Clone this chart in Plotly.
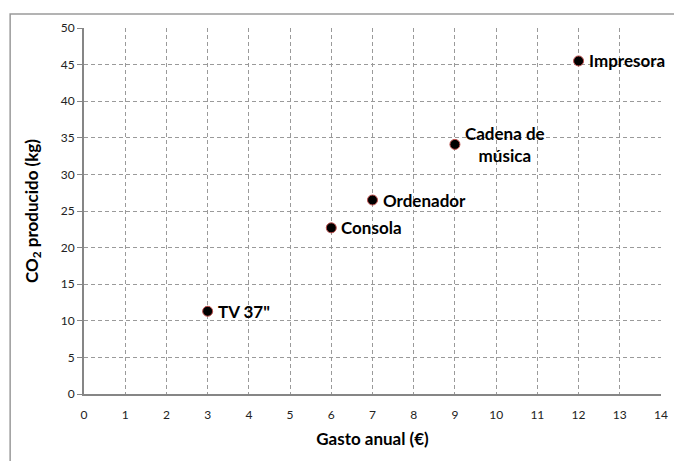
import plotly.graph_objects as go

aparatos = ["TV 37\"", "Consola", "Ordenador", "Cadena de<br>música", "Impresora"]
gasto_anual = [3, 6, 7, 9, 12]
co2_producido = [11.3, 22.7, 26.5, 34.1, 45.5]

x_ticks = list(range(0, 15))
y_ticks = list(range(0, 51, 5))

FONT = "Lato, 'Open Sans', Arial, sans-serif"
GRID = "#9a9a9a"
AXIS = "#868686"

fig = go.Figure()
fig.add_trace(go.Scatter(
    x=gasto_anual, y=co2_producido, mode="markers",
    marker=dict(size=10, color="black", line=dict(color="#c0504d", width=1)),
    showlegend=False, hoverinfo="skip",
))

for name, xv, yv in zip(aparatos, gasto_anual, co2_producido):
    fig.add_annotation(
        x=xv, y=yv, text="<b>" + name + "</b>", showarrow=False,
        xanchor="left", yanchor="middle", xshift=8, align="center",
        font=dict(family=FONT, size=17, color="black"),
    )

# the page body keeps an 8px default margin, so the figure is 8px smaller
fig.update_layout(
    width=674, height=453,
    margin=dict(l=76, r=21, t=18, b=67),
    paper_bgcolor="white", plot_bgcolor="white",
    font=dict(family=FONT, size=12, color="black"),
    xaxis=dict(
        range=[0, 14], tickvals=x_ticks, ticktext=[str(v) for v in x_ticks],
        showgrid=True, gridcolor=GRID, griddash="4px,3px", gridwidth=1,
        showline=True, linecolor=AXIS, linewidth=2, zeroline=False,
        ticks="", ticklabelstandoff=9,
        title=dict(text="<b>Gasto anual (€)</b>", font=dict(family=FONT, size=17), standoff=12),
        tickfont=dict(family=FONT, size=12, color="#222"),
    ),
    yaxis=dict(
        range=[0, 50], tickvals=y_ticks, ticktext=[str(v) for v in y_ticks],
        showgrid=True, gridcolor=GRID, griddash="4px,3px", gridwidth=1,
        showline=True, linecolor=AXIS, linewidth=2, zeroline=False,
        ticks="outside", ticklen=5, tickcolor=AXIS,
        title=dict(text="<b>CO<sub>2</sub> producido (kg)</b>", font=dict(family=FONT, size=17), standoff=18),
        tickfont=dict(family=FONT, size=12, color="#222"),
    ),
    shapes=[dict(
        type="rect", xref="paper", yref="paper",
        x0=-0.128, x1=1.06, y0=-0.25, y1=1.038,
        line=dict(color="#9a9a9a", width=1.5), fillcolor="rgba(0,0,0,0)", layer="below",
    )],
)

fig.write_html("out.html")
